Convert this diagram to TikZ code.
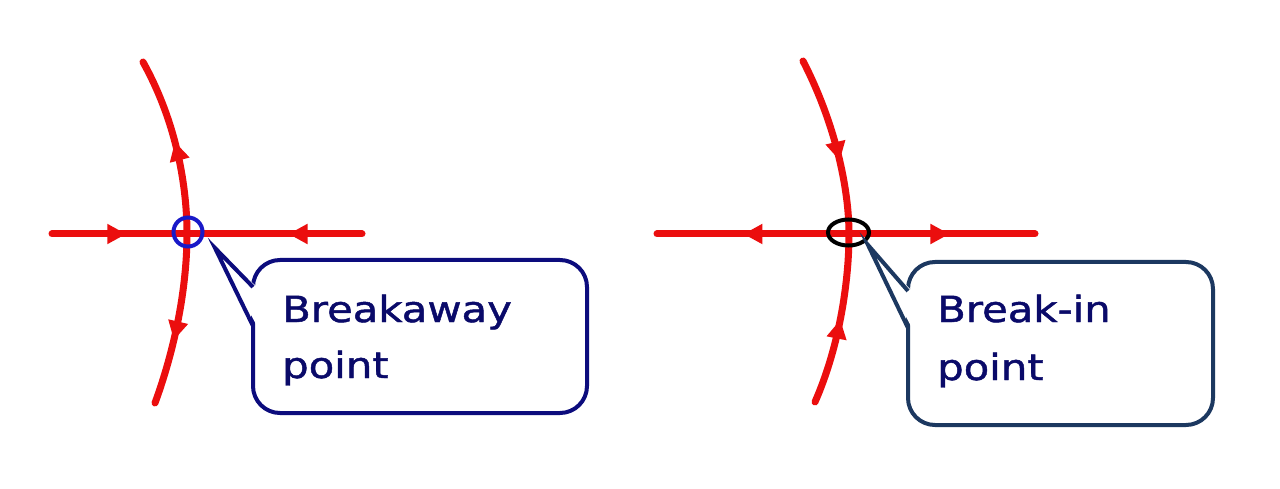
\documentclass[tikz,border=0pt]{standalone}
\usepackage{fontspec}
\newfontfamily\callfont[FakeStretch=1.16,FakeBold=1.3]{DejaVu Sans}
\usetikzlibrary{arrows.meta,decorations.markings,shapes.geometric}
\definecolor{locus}{RGB}{235,14,14}
\definecolor{boxA}{RGB}{12,12,125}
\definecolor{boxB}{RGB}{28,56,96}
\definecolor{txtcol}{RGB}{10,10,105}
\definecolor{ringblue}{RGB}{25,25,200}
\begin{document}
\begin{tikzpicture}[x=1pt,y=-1pt,
  locusline/.style={draw=locus, line width=7pt, line cap=round},
  midarrow/.style={postaction={decorate},
    decoration={markings, mark=at position #1 with {\arrow[locus]{Triangle[length=19pt,width=19pt]}}}},
  calloutbox/.style={draw=#1, line width=4pt, rounded corners=27pt, inner sep=0pt, fill=white},
  wedge/.style={draw=#1, line width=4pt, line join=miter},
  calltext/.style={text=txtcol, font=\callfont\fontsize{36}{43}\selectfont, inner sep=0pt, anchor=base west}]
\useasboundingbox (0,0) rectangle (1280,489);
\fill[white] (0,0) rectangle (1280,489);

% ---------- left figure: breakaway ----------
\coordinate (A0) at (187,234);
\coordinate (AL) at (52,234);
\coordinate (AR) at (362,234);
\coordinate (AT) at (143,62);
\coordinate (AB) at (155,403);
\draw[locusline, midarrow=0.55] (AL) -- (A0);
\draw[locusline, midarrow=0.42] (AR) -- (A0);
\draw[locusline, midarrow=0.52] (A0) .. controls (187,190) and (178,125) .. (AT);
\draw[locusline, midarrow=0.62] (A0) .. controls (187,280) and (178,340) .. (AB);
\node[circle, draw=ringblue, line width=4pt, minimum size=29pt, inner sep=0pt] (ring) at (188,232) {};

\node[calloutbox=boxA, minimum width=334pt, minimum height=153pt] (boxone) at (420,336.5) {};
\coordinate (tipone) at (215,248);
\fill[white] (257,287) -- (tipone) -- (257,326) -- cycle;
\draw[wedge=boxA] (253,287) -- (tipone) -- (253,326);
\node[calltext] (tonea) at (282,322) {Breakaway};
\node[calltext] (toneb) at (282,378) {point};

% ---------- right figure: break-in ----------
\coordinate (B0) at (849,234);
\coordinate (BL) at (657,234);
\coordinate (BR) at (1035,234);
\coordinate (BT) at (803,61);
\coordinate (BB) at (815,402);
\draw[locusline, midarrow=0.55] (B0) -- (BL);
\draw[locusline, midarrow=0.54] (B0) -- (BR);
\draw[locusline, midarrow=0.59] (BT) .. controls (836,125) and (849,190) .. (B0);
\draw[locusline, midarrow=0.50] (BB) .. controls (840,345) and (849,280) .. (B0);
\node[ellipse, draw=black, line width=4pt, minimum width=41pt, minimum height=26pt, inner sep=0pt] (oval) at (848.5,232.5) {};

\node[calloutbox=boxB, minimum width=305pt, minimum height=163pt] (boxtwo) at (1060.5,343.5) {};
\coordinate (tiptwo) at (868,245);
\fill[white] (912,291) -- (tiptwo) -- (912,328) -- cycle;
\draw[wedge=boxB] (908,291) -- (tiptwo) -- (908,328);
\node[calltext] (ttwoa) at (937,322) {Break-in};
\node[calltext] (ttwob) at (937,380) {point};
\end{tikzpicture}
\end{document}
